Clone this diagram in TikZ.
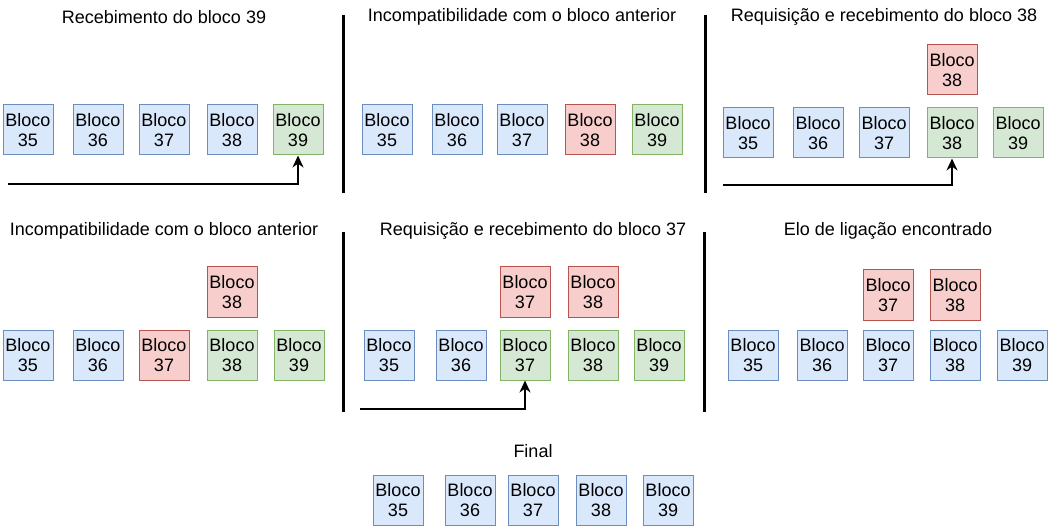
\documentclass[tikz,border=0pt]{standalone}
\usepackage{fontspec}
\setmainfont{Liberation Sans}
\usepackage{tikz}
\usetikzlibrary{arrows.meta,positioning}
\definecolor{azulfill}{HTML}{DAE8FC}
\definecolor{azuldraw}{HTML}{6C8EBF}
\definecolor{verdefill}{HTML}{D5E8D4}
\definecolor{verdedraw}{HTML}{82B366}
\definecolor{vermfill}{HTML}{F8CECC}
\definecolor{vermdraw}{HTML}{B85450}

\begin{document}
\begin{tikzpicture}[x=1pt,y=-1pt,
    bloco/.style={rectangle,minimum size=50pt,inner sep=0pt,align=center,line width=1pt,
      font=\fontsize{18}{20}\selectfont},
    azul/.style={bloco,draw=azuldraw,fill=azulfill},
    verde/.style={bloco,draw=verdedraw,fill=verdefill},
    vermelho/.style={bloco,draw=vermdraw,fill=vermfill},
    titulo/.style={font=\fontsize{18}{20}\selectfont},
    divisor/.style={line width=3pt},
    seta/.style={-{Stealth[length=12pt,width=11pt]},line width=2pt}]
  \useasboundingbox (0,0) rectangle (1048,526);

  \node[titulo] (t_a) at (164,17) {Recebimento do bloco 39};
  \node[azul] (a_35) at (28,130) {Bloco\\35};
  \node[azul] (a_36) at (98,130) {Bloco\\36};
  \node[azul] (a_37) at (164,130) {Bloco\\37};
  \node[azul] (a_38) at (232,130) {Bloco\\38};
  \node[verde] (a_39) at (298,130) {Bloco\\39};
  \coordinate (s_a) at (8,184);
  \draw[seta] (s_a) -| (a_39);

  \node[titulo] (t_b) at (522,17) {Incompatibilidade com o bloco anterior};
  \node[azul] (b_35) at (387,130) {Bloco\\35};
  \node[azul] (b_36) at (457,130) {Bloco\\36};
  \node[azul] (b_37) at (522,130) {Bloco\\37};
  \node[vermelho] (b_38) at (590,130) {Bloco\\38};
  \node[verde] (b_39) at (657,130) {Bloco\\39};

  \node[titulo] (t_c) at (884,17) {Requisição e recebimento do bloco 38};
  \node[azul] (c_35) at (748,133) {Bloco\\35};
  \node[azul] (c_36) at (818,133) {Bloco\\36};
  \node[azul] (c_37) at (884,133) {Bloco\\37};
  \node[verde] (c_38) at (952,133) {Bloco\\38};
  \node[verde] (c_39) at (1018,133) {Bloco\\39};
  \node[vermelho] (c_38r) at (952,70) {Bloco\\38};
  \coordinate (s_c) at (723,185);
  \draw[seta] (s_c) -| (c_38);

  \node[titulo] (t_d) at (164,231) {Incompatibilidade com o bloco anterior};
  \node[azul] (d_35) at (28,355) {Bloco\\35};
  \node[azul] (d_36) at (98,355) {Bloco\\36};
  \node[vermelho] (d_37) at (164,355) {Bloco\\37};
  \node[verde] (d_38) at (232,355) {Bloco\\38};
  \node[verde] (d_39) at (299,355) {Bloco\\39};
  \node[vermelho] (d_38r) at (232,292) {Bloco\\38};

  \node[titulo] (t_e) at (533,231) {Requisição e recebimento do bloco 37};
  \node[azul] (e_35) at (389,355) {Bloco\\35};
  \node[azul] (e_36) at (461,355) {Bloco\\36};
  \node[verde] (e_37) at (525,355) {Bloco\\37};
  \node[verde] (e_38) at (593,355) {Bloco\\38};
  \node[verde] (e_39) at (659,355) {Bloco\\39};
  \node[vermelho] (e_37r) at (525,292) {Bloco\\37};
  \node[vermelho] (e_38r) at (593,292) {Bloco\\38};
  \coordinate (s_e) at (360,409);
  \draw[seta] (s_e) -| (e_37);

  \node[titulo] (t_f) at (888,231) {Elo de ligação encontrado};
  \node[azul] (f_35) at (753,355) {Bloco\\35};
  \node[azul] (f_36) at (822,355) {Bloco\\36};
  \node[azul] (f_37) at (888,355) {Bloco\\37};
  \node[azul] (f_38) at (955,355) {Bloco\\38};
  \node[azul] (f_39) at (1022,355) {Bloco\\39};
  \node[vermelho] (f_37r) at (888,295) {Bloco\\37};
  \node[vermelho] (f_38r) at (955,295) {Bloco\\38};

  \node[titulo] (t_g) at (533,451) {Final};
  \node[azul] (g_35) at (398,500) {Bloco\\35};
  \node[azul] (g_36) at (470,500) {Bloco\\36};
  \node[azul] (g_37) at (533,500) {Bloco\\37};
  \node[azul] (g_38) at (601,500) {Bloco\\38};
  \node[azul] (g_39) at (668,500) {Bloco\\39};

  \draw[divisor] (343,15) -- (343,193);
  \draw[divisor] (705,15) -- (705,193);
  \draw[divisor] (343,232) -- (343,412);
  \draw[divisor] (704,232) -- (704,412);
\end{tikzpicture}
\end{document}
